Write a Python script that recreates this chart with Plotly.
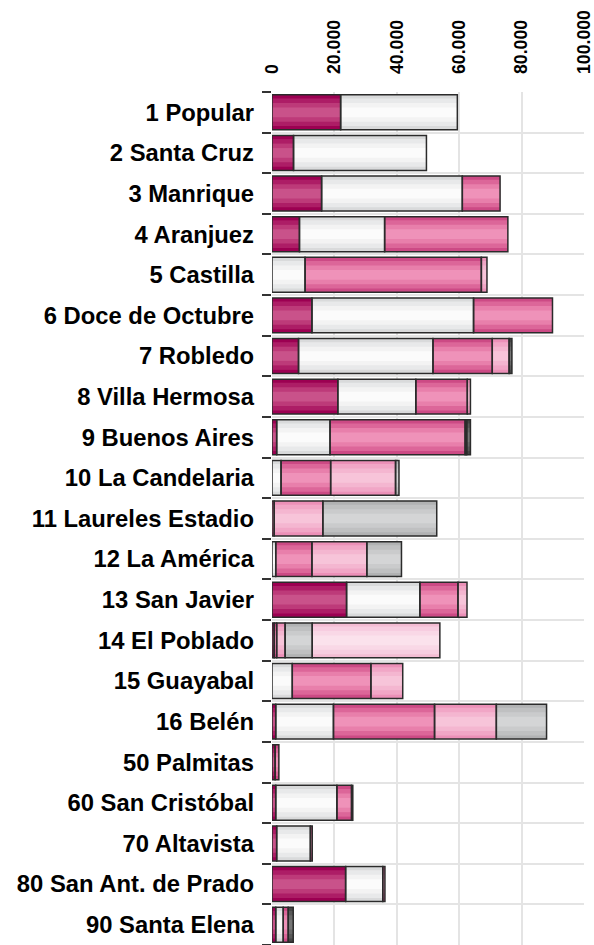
import plotly.graph_objects as go

categories = ["1 Popular", "2 Santa Cruz", "3 Manrique", "4 Aranjuez", "5 Castilla",
              "6 Doce de Octubre", "7 Robledo", "8 Villa Hermosa", "9 Buenos Aires",
              "10 La Candelaria", "11 Laureles Estadio", "12 La América", "13 San Javier",
              "14 El Poblado", "15 Guayabal", "16 Belén", "50 Palmitas", "60 San Cristóbal",
              "70 Altavista", "80 San Ant. de Prado", "90 Santa Elena"]

s1 = [22000, 6900, 15900, 8800, 0, 12800, 8500, 21100, 1500, 0, 0, 0, 23900, 700, 0, 1200, 1000, 1200, 1500, 23600, 1200]
s2 = [37400, 42600, 45100, 27300, 10600, 51800, 43100, 25000, 17100, 2900, 0, 1200, 23500, 0, 6500, 18500, 0, 19600, 10800, 11900, 2400]
s3 = [0, 0, 12100, 39500, 56500, 25300, 19000, 16500, 43300, 15900, 700, 11600, 12200, 800, 25200, 32400, 1200, 4700, 600, 700, 1600]
s4 = [0, 0, 0, 0, 1800, 0, 5400, 1000, 500, 20800, 15600, 17600, 2900, 2700, 10200, 19800, 0, 400, 0, 0, 0]
s5 = [0, 0, 0, 0, 0, 0, 0, 0, 0, 1100, 36500, 11100, 0, 8700, 0, 16100, 0, 0, 0, 0, 0]
s6 = [0, 0, 0, 0, 0, 0, 0, 0, 0, 0, 0, 0, 0, 40900, 0, 0, 0, 0, 0, 0, 0]
s7 = [0, 0, 0, 0, 0, 0, 900, 0, 1200, 0, 0, 0, 0, 0, 0, 0, 0, 0, 0, 0, 1600]

tick_vals = [0, 20000, 40000, 60000, 80000, 100000]
tick_text = ["0", "20.000", "40.000", "60.000", "80.000", "100.000"]

series = [s1, s2, s3, s4, s5, s6, s7]
# gradient layers: edge -> center
palettes = [
    ["#9c0052", "#ad1d66", "#bd3a79", "#c9528a"],
    ["#d9dadb", "#e8e9ea", "#f3f3f3", "#fbfbfb"],
    ["#cc4a85", "#dc6699", "#e87fab", "#ef92b9"],
    ["#ec90b8", "#f1a6c6", "#f4b6d0", "#f7c4d9"],
    ["#b1b2b3", "#bfc0c1", "#cacbcc", "#d4d5d6"],
    ["#f3bcd3", "#f7cde0", "#f9d8e6", "#fbe2ec"],
    ["#454545", "#585858", "#686868", "#767676"],
]
layer_widths = [0.86, 0.68, 0.46, 0.24]

# category positions on the y axis (one slot per category)
ypos = list(range(len(categories)))

fig = go.Figure()

bases = [0] * len(categories)
seg_bases = []
for s in series:
    seg_bases.append(list(bases))
    bases = [b + v for b, v in zip(bases, s)]

for s, b, pal in zip(series, seg_bases, palettes):
    vals = [v if v > 0 else None for v in s]
    for w, c in zip(layer_widths, pal):
        fig.add_trace(go.Bar(
            y=ypos, x=vals, base=b, orientation="h", width=w,
            marker=dict(color=c, line=dict(width=0)),
            showlegend=False, hoverinfo="skip"))

for s, b in zip(series, seg_bases):
    vals = [v if v > 0 else None for v in s]
    fig.add_trace(go.Bar(
        y=ypos, x=vals, base=b, orientation="h", width=layer_widths[0],
        customdata=categories,
        hovertemplate="%{customdata}: %{x}<extra></extra>",
        marker=dict(color="rgba(0,0,0,0)", line=dict(width=1.5, color="#2b2b2b")),
        showlegend=False))

fig.update_layout(
    width=594, height=945,
    margin=dict(l=272, r=10, t=92, b=0),
    barmode="overlay",
    plot_bgcolor="white", paper_bgcolor="white",
    font=dict(family="Liberation Sans, Arial, sans-serif", color="#000000"),
)
fig.update_xaxes(
    side="top", range=[0, 100000], tickvals=tick_vals, ticktext=tick_text,
    tickangle=-90, tickfont=dict(size=17.7, weight=700, color="#000000"),
    showgrid=True, gridcolor="#e4e4e4", gridwidth=2, zeroline=False,
    showline=False, ticks="", ticklabelstandoff=17, automargin=False,
    ticklabeloverflow="allow",
)
fig.update_yaxes(
    range=[len(categories) - 0.5, -0.5], tickvals=ypos, ticktext=categories,
    ticks="", showgrid=False, zeroline=False, showline=False,
    tickfont=dict(size=23.8, weight=700, color="#000000"),
    ticklabelstandoff=17, automargin=False,
    minor=dict(tick0=0.5, dtick=1, ticks="outside", ticklen=9, tickwidth=1.5,
               tickcolor="#333333", showgrid=True, gridcolor="#e4e4e4", gridwidth=2),
)

fig.write_html(
    "out.html",
    config={"displayModeBar": False},
    post_script="document.body.style.margin='0';document.body.style.overflow='hidden';",
)
